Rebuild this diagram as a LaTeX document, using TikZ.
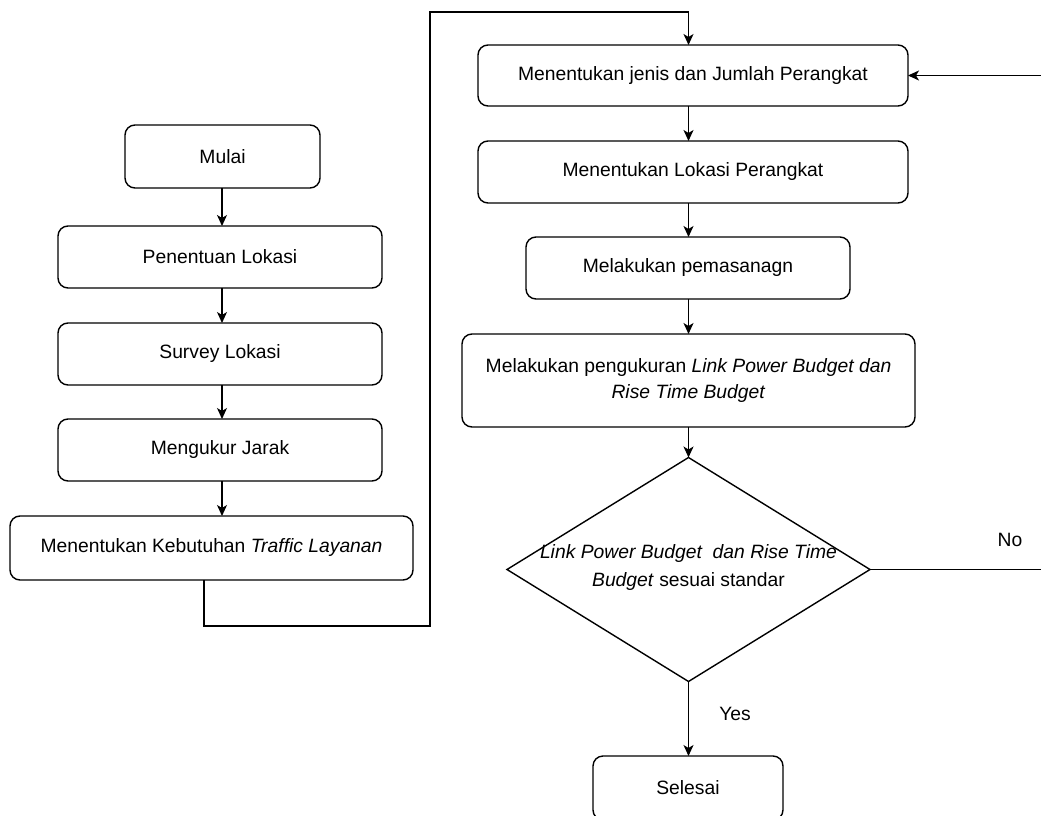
\documentclass[tikz,border=0pt]{standalone}
\usepackage{fontspec}
\setmainfont{Liberation Sans}
\usetikzlibrary{shapes.geometric,arrows.meta}
\tikzset{
  box/.style={draw, rectangle, rounded corners=10pt, inner sep=0pt, outer sep=0pt, align=center,
    font=\fontsize{19.3}{26}\selectfont, line width=1.4pt},
  lbl/.style={inner sep=0pt, font=\fontsize{19.3}{28}\selectfont},
  arr/.style={line width=1.4pt, -{Stealth[length=11pt,width=10pt,inset=3pt]}},
}
\begin{document}
\begin{tikzpicture}[x=1pt,y=-1pt]
\useasboundingbox (0,0) rectangle (1041,816);
\clip (0,0) rectangle (1041,816);
% left column
\node[box, minimum width=195pt, minimum height=63pt] (mulai) at (222.5,156.5) {Mulai};
\node[box, minimum width=324pt, minimum height=62pt] (lok) at (220,257) {Penentuan Lokasi};
\node[box, minimum width=324pt, minimum height=62pt] (survey) at (220,354) {Survey Lokasi};
\node[box, minimum width=324pt, minimum height=62pt] (jarak) at (220,450) {Mengukur Jarak};
\node[box, minimum width=403pt, minimum height=64pt] (keb) at (211.5,548) {Menentukan Kebutuhan \textit{Traffic Layanan}};
% right column
\node[box, minimum width=430pt, minimum height=61pt] (jenis) at (693,75.5) {Menentukan jenis dan Jumlah Perangkat};
\node[box, minimum width=430pt, minimum height=62pt] (lokp) at (693,172) {Menentukan Lokasi Perangkat};
\node[box, minimum width=324pt, minimum height=62pt] (pasang) at (688,268) {Melakukan pemasanagn};
\node[box, minimum width=453pt, minimum height=93pt] (ukur) at (688.5,380.5) {Melakukan pengukuran \textit{Link Power Budget dan}\\\textit{Rise Time Budget}};
\node[draw, diamond, line width=1.4pt, minimum width=363pt, minimum height=224pt, inner sep=0pt, outer sep=0pt] (dec) at (688.5,569.5) {};
\node[lbl, align=center] (dectext) at (688.5,568) {\textit{Link Power Budget\ \ dan Rise Time}\\\textit{Budget} sesuai standar};
\node[box, minimum width=190pt, minimum height=64pt] (sel) at (688,788) {Selesai};
% coordinates
\coordinate (kebout) at (204,580);
\coordinate (c1) at (430,626);
\coordinate (c2) at (430,12);
\coordinate (cno) at (1050,569.5);
% arrows left
\draw[arr] (mulai.south -| 222,0) -- (lok.north -| 222,0);
\draw[arr] (lok.south -| 222,0) -- (survey.north -| 222,0);
\draw[arr] (survey.south -| 222,0) -- (jarak.north -| 222,0);
\draw[arr] (jarak.south -| 222,0) -- (keb.north -| 222,0);
% long connector
\draw[arr] (kebout) |- (c1) -- (c2) -| (jenis.north -| dec);
% right column
\draw[arr] (jenis.south -| dec) -- (lokp.north -| dec);
\draw[arr] (lokp.south -| dec) -- (pasang.north -| dec);
\draw[arr] (pasang.south -| dec) -- (ukur.north -| dec);
\draw[arr] (ukur.south -| dec) -- (dec.north);
\draw[arr] (dec.south) -- (sel.north -| dec);
\draw[arr] (dec.east) -- (cno) |- (jenis.east);
% labels
\node[lbl] (no) at (1010,540) {No};
\node[lbl] (yes) at (735,714) {Yes};
\end{tikzpicture}
\end{document}
